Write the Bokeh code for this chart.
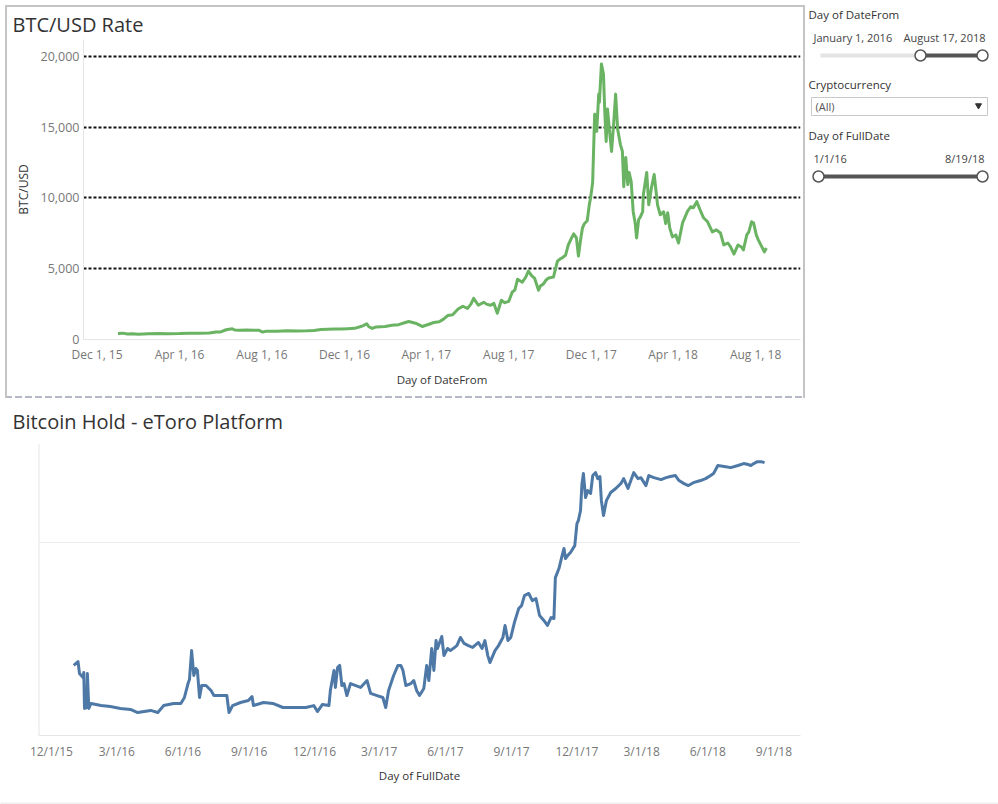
import pandas as pd
from bokeh.plotting import figure
from bokeh.layouts import row, column
from bokeh.models import Range1d, FixedTicker, NumeralTickFormatter, Span
from bokeh.core.properties import value
from bokeh.embed import file_html
from bokeh.resources import INLINE

FONT = "Open Sans"

# ---------------- data ----------------
start_date = "2016-01-01"

# BTC/USD rate: days since start_date, USD value
btc_days = [0, 7, 14, 21, 30, 45, 60, 75, 91, 105, 120, 135, 145, 152, 160, 169, 173, 180, 190, 200,
            208, 214, 220, 235, 250, 265, 280, 290, 300, 310, 320, 330, 340, 350, 358, 362, 368, 371, 376, 382,
            395, 405, 415, 425, 430, 440, 447, 450, 460, 467, 475, 481, 488, 495, 503, 510, 517, 522, 526, 533,
            541, 545, 551, 556, 561, 567, 572, 578, 583, 587, 591, 598, 603, 607, 612, 616, 622, 625, 629, 633,
            637, 644, 650, 654, 657, 662, 666, 670, 674, 678, 681, 684, 687, 690, 694, 697, 699, 702, 705, 708,
            711, 712, 715, 718, 720, 722, 724, 727, 730, 733, 736, 739, 743, 746, 748, 751, 754, 756, 759, 762,
            765, 767, 770, 773, 776, 777, 782, 785, 789, 793, 798, 802, 807, 810, 813, 816, 820, 825, 829, 835,
            842, 847, 851, 856, 862, 866, 872, 879, 885, 891, 896, 902, 906, 911, 917, 922, 925, 930, 933, 937,
            940, 944, 947, 953, 956, 959]
btc_usd = [430, 450, 390, 400, 370, 400, 430, 415, 420, 450, 450, 455, 530, 535, 690, 760, 670, 650, 670, 660,
           655, 530, 590, 575, 610, 605, 610, 640, 700, 720, 740, 740, 760, 790, 900, 960, 1110, 900, 780, 890,
           920, 1000, 1050, 1200, 1270, 1150, 1000, 920, 1080, 1200, 1250, 1420, 1700, 1750, 2150, 2350, 2200, 2500, 2910, 2420,
           2630, 2500, 2420, 2550, 1850, 2770, 2600, 2700, 3340, 3500, 4260, 4050, 4400, 4830, 4500, 4340, 3480, 3800, 3910, 4200,
           4340, 4410, 5540, 5700, 5760, 5970, 6680, 7100, 7460, 7180, 5900, 7000, 7890, 8200, 8390, 9500, 10020, 11090, 15920, 14710,
           17340, 16770, 19470, 18760, 16060, 14000, 16280, 14710, 13290, 15210, 17340, 14850, 13790, 13290, 10800, 12860, 10950, 11800, 11160, 9030,
           8200, 7180, 8460, 8700, 9030, 10230, 11800, 9520, 10730, 11660, 9520, 8810, 9030, 8200, 8960, 7890, 7250, 7390, 6820, 8240,
           9030, 9380, 9310, 9740, 9030, 8600, 8320, 7600, 7750, 7530, 6680, 6820, 6540, 6040, 6680, 6540, 6330, 7390, 7600, 8320,
           8240, 7390, 7040, 6470, 6190, 6470]

# Bitcoin hold on eToro (axis values hidden in the original): days since start_date, amount
hold_days = [0, 6, 8, 13, 14, 15, 18, 19, 21, 24, 38, 51, 65, 79, 89, 107, 117, 125, 139, 149,
             154, 159, 161, 164, 167, 170, 172, 175, 178, 184, 191, 195, 204, 213, 216, 221, 232, 243, 248, 250,
             264, 277, 291, 309, 323, 334, 339, 346, 355, 357, 362, 364, 367, 370, 373, 376, 380, 385, 399, 408,
             413, 422, 430, 434, 438, 445, 451, 455, 458, 462, 469, 473, 477, 481, 487, 491, 494, 498, 501, 504,
             506, 512, 515, 520, 524, 533, 538, 543, 549, 555, 563, 568, 572, 576, 579, 586, 591, 597, 600, 604,
             608, 613, 619, 623, 627, 633, 638, 643, 648, 654, 659, 664, 668, 670, 675, 679, 682, 684, 687, 691,
             697, 700, 702, 705, 707, 709, 712, 715, 719, 722, 726, 729, 732, 734, 737, 741, 747, 754, 761, 765,
             771, 775, 779, 785, 789, 796, 800, 807, 817, 824, 830, 837, 842, 849, 855, 862, 872, 879, 886, 890,
             896, 907, 914, 924, 932, 938, 942, 946, 951, 956, 961]
hold_amount = [3630, 3830, 3210, 3000, 3260, 1400, 1450, 3210, 1400, 1660, 1550, 1500, 1400, 1350, 1190, 1300, 1190, 1550, 1660, 1660,
               1970, 2690, 2900, 4400, 3110, 3470, 3370, 1970, 2590, 2590, 2330, 2070, 2070, 2070, 1190, 1550, 1710, 1810, 2020, 1550,
               1710, 1660, 1450, 1450, 1450, 1550, 1240, 1610, 1550, 2330, 3370, 2490, 3520, 3630, 2590, 2690, 2070, 2690, 2490, 2850,
               2180, 2070, 1970, 1450, 2330, 3110, 3630, 3630, 3370, 2590, 2690, 2850, 2330, 2070, 2440, 3630, 2850, 4510, 3370, 4920,
               4510, 5130, 4140, 4510, 4400, 4660, 5080, 4770, 4660, 4560, 4820, 4510, 4920, 4140, 3780, 4400, 4660, 5080, 5700, 4920,
               5080, 5850, 6580, 6730, 7250, 7360, 6990, 7100, 6220, 5960, 5700, 6110, 6060, 8180, 8650, 9270, 9690, 9170, 9320, 9480,
               9840, 10980, 11140, 11660, 13050, 13570, 12330, 12690, 12540, 13470, 13620, 13310, 13420, 12170, 11400, 12170, 12590, 12800, 13050, 13310,
               12800, 13210, 13620, 13310, 13360, 12950, 13470, 13360, 13260, 13360, 13420, 13470, 13210, 13050, 12950, 13100, 13210, 13310, 13470, 13570,
               13990, 13930, 13880, 13990, 14090, 14040, 13990, 14090, 14190, 14190, 14140]

top_tick_dates = ["2015-12-01", "2016-04-01", "2016-08-01", "2016-12-01", "2017-04-01",
                  "2017-08-01", "2017-12-01", "2018-04-01", "2018-08-01"]
top_tick_labels = ["Dec 1, 15", "Apr 1, 16", "Aug 1, 16", "Dec 1, 16", "Apr 1, 17",
                   "Aug 1, 17", "Dec 1, 17", "Apr 1, 18", "Aug 1, 18"]
btc_y_ticks = [0, 5000, 10000, 15000, 20000]
btc_ref_lines = [5000, 10000, 15000, 20000]

bottom_tick_dates = ["2015-12-01", "2016-03-01", "2016-06-01", "2016-09-01", "2016-12-01", "2017-03-01",
                     "2017-06-01", "2017-09-01", "2017-12-01", "2018-03-01", "2018-06-01", "2018-09-01"]
bottom_tick_labels = ["12/1/15", "3/1/16", "6/1/16", "9/1/16", "12/1/16", "3/1/17",
                      "6/1/17", "9/1/17", "12/1/17", "3/1/18", "6/1/18", "9/1/18"]
hold_grid_values = [10000]

top_range = ("2015-11-11", "2018-10-06 10:00")
bottom_range = ("2015-11-13", "2018-10-08")


def to_dates(days):
    return pd.Timestamp(start_date) + pd.to_timedelta(days, unit="D")


def to_ms(dates):
    return [int(pd.Timestamp(d).value // 10**6) for d in dates]


def style_axis(ax):
    ax.major_tick_in = 0
    ax.major_tick_out = 0
    ax.minor_tick_in = 0
    ax.minor_tick_out = 0
    ax.axis_line_color = "#e6e6e6"
    ax.major_label_text_font = FONT
    ax.major_label_text_font_size = "12px"
    ax.major_label_text_color = "#777777"
    ax.axis_label_text_font = FONT
    ax.axis_label_text_font_style = "normal"
    ax.axis_label_text_color = "#333333"
    ax.axis_label_text_font_size = "11.5px"


def blank_canvas(w, h, bg="white"):
    f = figure(width=w, height=h, title=None, x_range=Range1d(0, w), y_range=Range1d(h, 0),
               x_axis_location=None, y_axis_location=None,
               output_backend="svg", toolbar_location=None, min_border=0)
    f.frame_align = False
    f.outline_line_color = None
    f.background_fill_color = bg
    f.border_fill_color = bg
    f.grid.visible = False
    return f


GRAY = "#c4c4c4"
panel_border_css = ", ".join([
    f"linear-gradient({GRAY},{GRAY}) 5px 5px / 2px 393px no-repeat",
    f"linear-gradient({GRAY},{GRAY}) 803px 5px / 2px 393px no-repeat",
    f"linear-gradient({GRAY},{GRAY}) 5px 5px / 800px 2px no-repeat",
    "repeating-linear-gradient(to right, #b4b8c4 0px, #b4b8c4 7px, transparent 7px, transparent 10px) 5px 396px / 800px 2px no-repeat",
    "white",
])

# ---------------- top chart ----------------
top = figure(width=806, height=400, title="BTC/USD Rate", x_axis_type="datetime",
             x_range=Range1d(pd.Timestamp(top_range[0]), pd.Timestamp(top_range[1])),
             y_range=Range1d(0, 21200),
             output_backend="svg", toolbar_location=None,
             min_border_left=83, min_border_right=6, min_border_top=39, min_border_bottom=61,
             styles={"background": panel_border_css})
top.frame_align = False
top.background_fill_color = "white"
top.border_fill_color = None
top.outline_line_color = None
top.xgrid.visible = False
top.title.align = "left"
top.title.text_font = FONT
top.title.text_font_size = "20px"
top.title.text_font_style = "normal"
top.title.text_color = "#333333"
top.title.offset = -71
top.title.standoff = 4
style_axis(top.xaxis[0])
style_axis(top.yaxis[0])
top.xaxis.ticker = FixedTicker(ticks=to_ms(top_tick_dates))
top.xaxis.major_label_overrides = dict(zip(to_ms(top_tick_dates), top_tick_labels))
top.xaxis.major_label_standoff = 6
top.xaxis.axis_label = "Day of DateFrom"
top.xaxis.axis_label_standoff = 6
top.yaxis.ticker = FixedTicker(ticks=btc_y_ticks)
top.yaxis.formatter = NumeralTickFormatter(format="0,0")
top.yaxis.major_label_text_font_size = "12.5px"
top.yaxis.major_label_standoff = 4
top.yaxis.axis_label = "BTC/USD"
top.yaxis.axis_label_text_font_size = "12px"
top.yaxis.axis_label_standoff = 6
top.ygrid.ticker = FixedTicker(ticks=btc_ref_lines)
top.ygrid.grid_line_color = "#111111"
top.ygrid.grid_line_width = 2
top.ygrid.grid_line_dash = "3 2"

top.line(to_dates(btc_days), btc_usd, line_color="#69b362", line_width=3, line_join="round")

# ---------------- bottom chart title strip ----------------
bottom_title = blank_canvas(806, 43)
bottom_title.text(x=[12], y=[21], text=["Bitcoin Hold - eToro Platform"],
                  text_font=value(FONT), text_font_size=value("20px"), text_color="#333333",
                  text_baseline="middle", text_align="left")

# ---------------- bottom chart ----------------
bottom = figure(width=806, height=354, title=None, x_axis_type="datetime",
                x_range=Range1d(pd.Timestamp(bottom_range[0]), pd.Timestamp(bottom_range[1])),
                y_range=Range1d(0, 15130), y_axis_location=None,
                output_backend="svg", toolbar_location=None,
                min_border_left=38, min_border_right=6, min_border_top=0, min_border_bottom=62)
bottom.frame_align = False
bottom.background_fill_color = "white"
bottom.border_fill_color = "white"
bottom.outline_line_color = None
bottom.xgrid.visible = False
bottom.ygrid.ticker = FixedTicker(ticks=hold_grid_values)
bottom.ygrid.grid_line_color = "#ececec"
bottom.ygrid.grid_line_width = 1
style_axis(bottom.xaxis[0])
bottom.xaxis.ticker = FixedTicker(ticks=to_ms(bottom_tick_dates))
bottom.xaxis.major_label_overrides = dict(zip(to_ms(bottom_tick_dates), bottom_tick_labels))
bottom.xaxis.major_label_standoff = 7
bottom.xaxis.axis_label = "Day of FullDate"
bottom.xaxis.axis_label_standoff = 5
bottom.add_layout(Span(location=to_ms([bottom_range[0]])[0], dimension="height",
                       line_color="#e6e6e6", line_width=2))

bottom.line(to_dates(hold_days), hold_amount, line_color="#4e79a7", line_width=3, line_join="round")

# ---------------- side panel (filters) ----------------
side = blank_canvas(192, 797)
side.text(x=[2, 2, 2], y=[14, 84, 135], text=["Day of DateFrom", "Cryptocurrency", "Day of FullDate"],
          text_font=value(FONT), text_font_size=value("11.5px"), text_color="#333333",
          text_baseline="middle", text_align="left")
side.text(x=[7, 7], y=[37, 158], text=["January 1, 2016", "1/1/16"],
          text_font=value(FONT), text_font_size=value("11px"), text_color="#444444",
          text_baseline="middle", text_align="left")
side.text(x=[179, 178], y=[37, 158], text=["August 17, 2018", "8/19/18"],
          text_font=value(FONT), text_font_size=value("11px"), text_color="#444444",
          text_baseline="middle", text_align="right")
side.segment(x0=[14], y0=[55], x1=[114], y1=[55], line_color="#e4e4e4", line_width=4)
side.segment(x0=[114, 12], y0=[55, 176], x1=[176, 176], y1=[55, 176], line_color="#555555", line_width=4)
side.scatter(x=[114, 176, 12, 176], y=[55, 55, 176, 176], marker="circle", size=11,
             fill_color="white", line_color="#555555", line_width=1.5)
side.quad(left=[5], right=[181], top=[97], bottom=[115], fill_color="white", line_color="#c8c8c8", line_width=1)
side.text(x=[9], y=[106], text=["(All)"], text_font=value(FONT), text_font_size=value("11px"),
          text_color="#555555", text_baseline="middle", text_align="left")
side.scatter(x=[172], y=[105], marker="inverted_triangle", size=6, fill_color="#333333", line_color="#333333")

# ---------------- bottom band ----------------
band = blank_canvas(998, 7, bg="#f0f0f0")

layout = column(row(column(top, bottom_title, bottom), side), band)

with open("out.html", "w") as f:
    f.write(file_html(layout, INLINE))
